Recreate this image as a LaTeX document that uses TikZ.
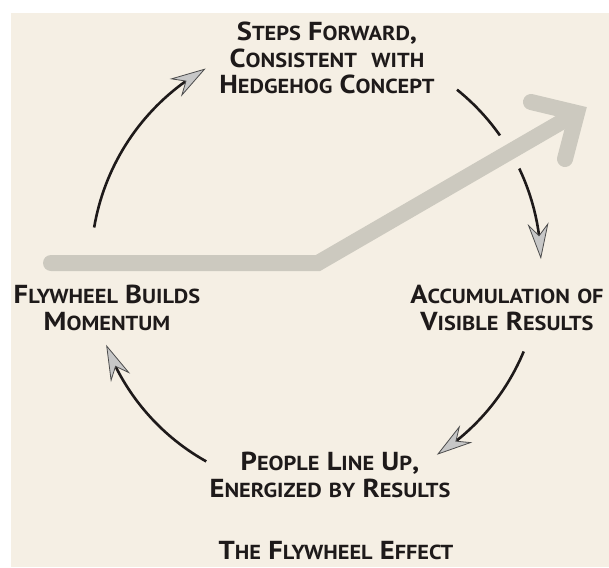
\documentclass[tikz,border=0pt]{standalone}
\usepackage{fontspec}
\setmainfont[FakeStretch=1.1]{PT Sans}
\usetikzlibrary{arrows.meta,bending,calc}

\definecolor{bg}{HTML}{F5EFE4}
\definecolor{bar}{HTML}{CCC9BF}
\definecolor{ink}{HTML}{1E1A1A}

\newcommand\sm[1]{{\fontsize{20.3}{26.5}\selectfont #1}}

\begin{document}
\begin{tikzpicture}[x=1pt,y=-1pt,
  lab/.style={font=\fontsize{26}{26.5}\selectfont\bfseries, text=ink, align=center, inner sep=0pt},
  flow/.style={line width=2.6pt, draw=ink, -{Stealth[length=36pt,width=21pt,inset=12pt,line width=0.8pt,color=black!70,fill=black!22]}},
  halo/.style={line width=38pt, draw=bg},
  thick bar/.style={line width=16pt, draw=bar, line join=miter},
]
\useasboundingbox (0,0) rectangle (609,567);
\fill[white] (0,0) rectangle (609,567);
\fill[bg] (11,13) rectangle (609,567);

\coordinate (c) at (316,265);
\coordinate (s1) at ($(c)+(-170.4:225)$);
\coordinate (s2) at ($(c)+(-51.2:225)$);
\coordinate (s3) at ($(c)+(22.6:225)$);
\coordinate (s4) at ($(c)+(119.2:225)$);

% cycle arcs
\draw[flow] (s1) arc[start angle=-170.4, end angle=-119.5, radius=226];
\draw[flow] (s2) arc[start angle=-51.2, end angle=-1.5, radius=225];
\draw[flow] (s3) arc[start angle=22.6, end angle=57.5, radius=225];
\draw[flow] (s4) arc[start angle=119.2, end angle=159.5, radius=223];

% big grey arrow
\coordinate (b0) at (51,263);
\coordinate (b1) at (318,263);
\coordinate (bv) at (577,113);
\coordinate (bt) at (570,117);
\coordinate (ba) at (531,102);
\coordinate (bb) at (565,159);
\draw[halo] (b1) -- (bt);
\draw[thick bar, line cap=round] (b0) -- (b1) -- (bt);
\draw[thick bar, line cap=round] (ba) -- (bv) -- (bb);

% labels
\node[lab] (top) at (327,58) {S\sm{TEPS} F\sm{ORWARD},\\C\sm{ONSISTENT}\ \ \sm{WITH}\\H\sm{EDGEHOG} C\sm{ONCEPT}};
\node[lab] (left) at (107,308) {F\sm{LYWHEEL} B\sm{UILDS}\\M\sm{OMENTUM}};
\node[lab] (right) at (507,308) {A\sm{CCUMULATION} \sm{OF}\\V\sm{ISIBLE} R\sm{ESULTS}};
\node[lab] (bottom) at (330,475) {P\sm{EOPLE} L\sm{INE} U\sm{P},\\E\sm{NERGIZED} \sm{BY} R\sm{ESULTS}};
\node[lab, anchor=base] (title) at (336,559) {T\sm{HE} F\sm{LYWHEEL} E\sm{FFECT}};
\end{tikzpicture}
\end{document}
